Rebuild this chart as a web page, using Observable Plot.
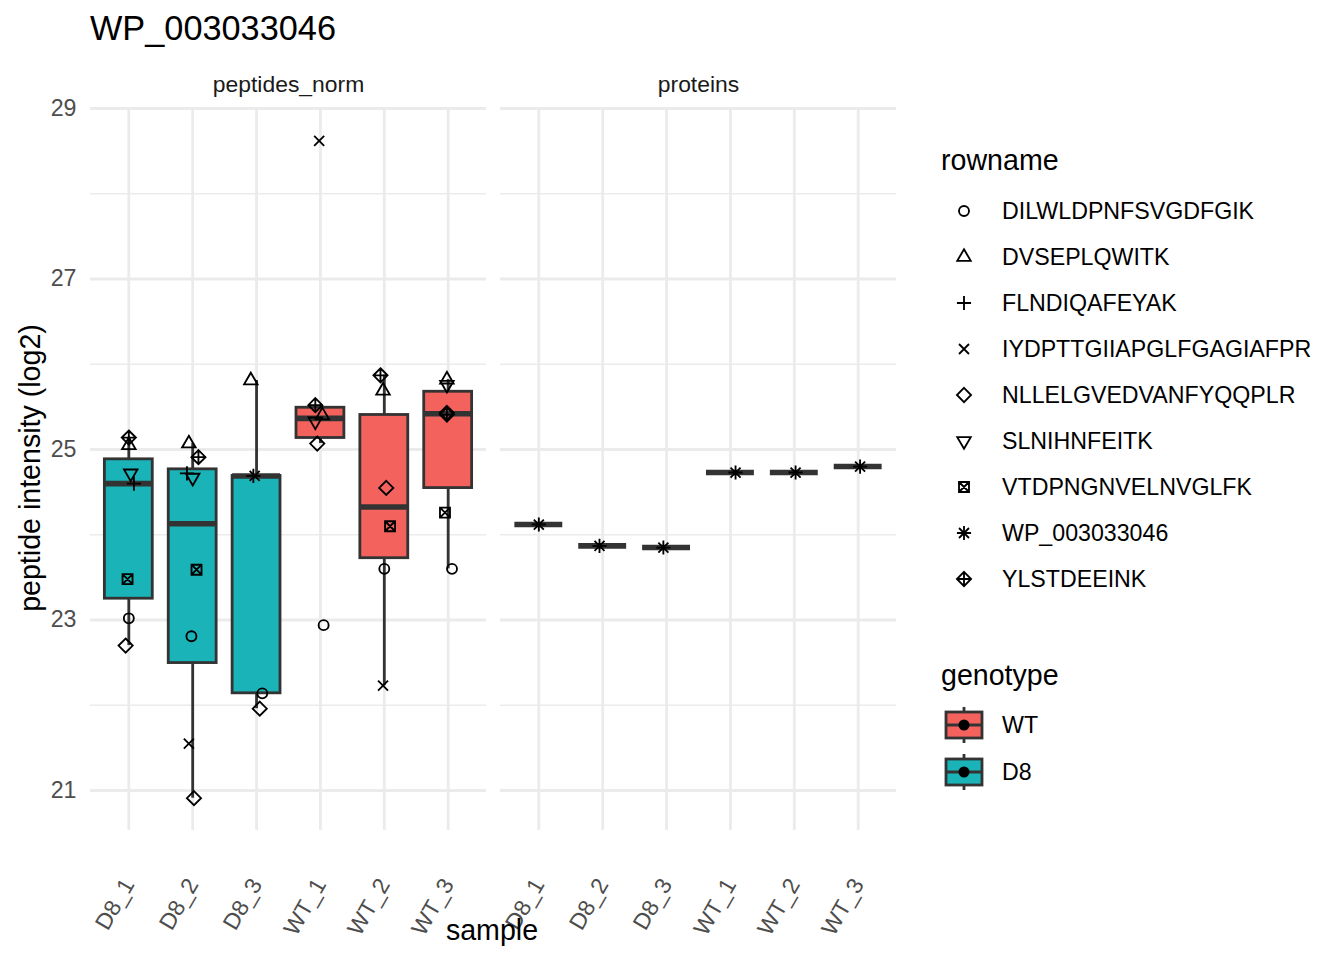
<!DOCTYPE html>
<html>
<head>
<meta charset="utf-8">
<script src="https://cdn.jsdelivr.net/npm/d3@7"></script>
<script src="https://cdn.jsdelivr.net/npm/@observablehq/plot@0.6"></script>
<style>
  html, body { margin: 0; padding: 0; background: #fff; }
  body { width: 1344px; height: 960px; position: relative; overflow: hidden; font-family: "Liberation Sans", Arial, sans-serif; }
  #title { position: absolute; left: 90px; top: 8px; height: 40px; line-height: 40px; font-size: 34.3px; color: #000; white-space: nowrap; }
  #chart { position: absolute; left: 0; top: 50px; }
  #legend { position: absolute; left: 920px; top: 100px; }
  #xlabel { position: absolute; left: 492px; top: 930px; transform: translate(-50%, -50%); font-size: 28.6px; color: #000; white-space: nowrap; }
  #ylabel { position: absolute; left: 30px; top: 468px; transform: translate(-50%, -50%) rotate(-90deg); font-size: 28.6px; color: #000; white-space: nowrap; }
</style>
</head>
<body>
<div id="title">WP_003033046</div>
<div id="chart"></div>
<div id="xlabel">sample</div>
<div id="ylabel">peptide intensity (log2)</div>
<div id="legend"></div>
<script>
// ---------------- data ----------------
const facets = ["peptides_norm", "proteins"];
const samples = ["D8_1", "D8_2", "D8_3", "WT_1", "WT_2", "WT_3"];
const sampleGenotype = ["D8", "D8", "D8", "WT", "WT", "WT"];
const genotypes = ["WT", "D8"];
const genotypeColors = ["#F4625E", "#1AB3B7"];
const rownames = ["DILWLDPNFSVGDFGIK", "DVSEPLQWITK", "FLNDIQAFEYAK", "IYDPTTGIIAPGLFGAGIAFPR",
  "NLLELGVEDVANFYQQPLR", "SLNIHNFEITK", "VTDPNGNVELNVGLFK", "WP_003033046", "YLSTDEEINK"];
const proteinRow = "WP_003033046";
const yTicksMajor = [21, 23, 25, 27, 29];
const yTicksMinor = [22, 24, 26, 28];

// log2 intensity per sample (D8_1..WT_3); null = missing
const DILWLDPNFSVGDFGIK      = [23.02, 22.81, 22.14, 22.94, 23.60, 23.60];
const DVSEPLQWITK            = [25.05, 25.07, 25.81, 25.40, 25.69, 25.82];
const FLNDIQAFEYAK           = [24.60, 24.72, 24.69, null, null, null];
const IYDPTTGIIAPGLFGAGIAFPR = [null, 21.55, 24.69, 28.62, 22.23, null];
const NLLELGVEDVANFYQQPLR    = [22.70, 20.91, 21.96, 25.07, 24.55, 25.43];
const SLNIHNFEITK            = [24.72, 24.67, null, 25.33, null, 25.76];
const VTDPNGNVELNVGLFK       = [23.48, 23.59, null, null, 24.10, 24.26];
const WP_003033046           = [24.12, 23.87, 23.85, 24.73, 24.73, 24.80];
const YLSTDEEINK             = [25.14, 24.91, null, 25.52, 25.87, 25.41];

// horizontal jitter (in category units)
const jitter_DILW = [0.00, -0.02, 0.09, 0.05, 0.00, 0.06];
const jitter_DVSE = [0.00, -0.06, -0.09, 0.03, -0.02, -0.02];
const jitter_FLND = [0.08, -0.09, -0.05, 0, 0, 0];
const jitter_IYDP = [0, -0.06, -0.03, -0.02, -0.02, 0];
const jitter_NLLE = [-0.05, 0.02, 0.05, -0.05, 0.03, -0.02];
const jitter_SLNI = [0.03, 0.00, 0, -0.08, 0, -0.02];
const jitter_VTDP = [-0.02, 0.06, 0, 0, 0.09, -0.05];
const jitter_WP   = [0.00, -0.05, -0.05, 0.08, 0.02, 0.03];
const jitter_YLST = [0.00, 0.09, 0, -0.08, -0.06, -0.02];

const valueTable = [DILWLDPNFSVGDFGIK, DVSEPLQWITK, FLNDIQAFEYAK, IYDPTTGIIAPGLFGAGIAFPR,
  NLLELGVEDVANFYQQPLR, SLNIHNFEITK, VTDPNGNVELNVGLFK, WP_003033046, YLSTDEEINK];
const jitterTable = [jitter_DILW, jitter_DVSE, jitter_FLND, jitter_IYDP, jitter_NLLE,
  jitter_SLNI, jitter_VTDP, jitter_WP, jitter_YLST];

// ------------- ggplot-like shapes (R pch 1..9) -------------
const SQ2 = Math.SQRT2;
function mk(fn) { return { draw(ctx, size) { fn(ctx, Math.sqrt(size / Math.PI)); } }; }
const shapes = [
  mk((c, s) => { c.moveTo(s, 0); c.arc(0, 0, s, 0, 2 * Math.PI); }),                       // circle
  mk((c, s) => { const r = 1.5551 * s, xc = 1.3468 * s, yc = 0.7776 * s;
    c.moveTo(0, -r); c.lineTo(xc, yc); c.lineTo(-xc, yc); c.closePath(); }),               // triangle up
  mk((c, s) => { const a = SQ2 * s; c.moveTo(-a, 0); c.lineTo(a, 0); c.moveTo(0, -a); c.lineTo(0, a); }), // plus
  mk((c, s) => { c.moveTo(-s, -s); c.lineTo(s, s); c.moveTo(-s, s); c.lineTo(s, -s); }),  // times
  mk((c, s) => { const a = SQ2 * s; c.moveTo(0, -a); c.lineTo(a, 0); c.lineTo(0, a); c.lineTo(-a, 0); c.closePath(); }), // diamond
  mk((c, s) => { const r = 1.5551 * s, xc = 1.3468 * s, yc = 0.7776 * s;
    c.moveTo(0, r); c.lineTo(xc, -yc); c.lineTo(-xc, -yc); c.closePath(); }),              // triangle down
  mk((c, s) => { c.moveTo(-s, -s); c.lineTo(s, -s); c.lineTo(s, s); c.lineTo(-s, s); c.closePath();
    c.moveTo(-s, -s); c.lineTo(s, s); c.moveTo(-s, s); c.lineTo(s, -s); }),                // square cross
  mk((c, s) => { c.moveTo(-s, -s); c.lineTo(s, s); c.moveTo(-s, s); c.lineTo(s, -s);
    const a = SQ2 * s; c.moveTo(-a, 0); c.lineTo(a, 0); c.moveTo(0, -a); c.lineTo(0, a); }), // asterisk
  mk((c, s) => { const a = SQ2 * s; c.moveTo(0, -a); c.lineTo(a, 0); c.lineTo(0, a); c.lineTo(-a, 0); c.closePath();
    c.moveTo(-a, 0); c.lineTo(a, 0); c.moveTo(0, -a); c.lineTo(0, a); })                   // diamond plus
];

// ------------- long table -------------
const rows = [];
rownames.forEach((rn, k) => {
  samples.forEach((sm, i) => {
    const v = valueTable[k][i];
    if (v == null) return;
    rows.push({
      facet: rn === proteinRow ? "proteins" : "peptides_norm",
      rowname: rn, sample: sm, si: i, value: v, jit: jitterTable[k][i],
      genotype: sampleGenotype[i]
    });
  });
});

// box statistics (ggplot stat_boxplot: quantile type 7, whiskers 1.5 IQR)
const stats = [];
facets.forEach(f => {
  samples.forEach((sm, i) => {
    const vals = rows.filter(r => r.facet === f && r.si === i).map(r => r.value).sort(d3.ascending);
    if (!vals.length) return;
    const q1 = d3.quantileSorted(vals, 0.25), med = d3.quantileSorted(vals, 0.5), q3 = d3.quantileSorted(vals, 0.75);
    const iqr = q3 - q1;
    const lo = d3.min(vals.filter(v => v >= q1 - 1.5 * iqr));
    const hi = d3.max(vals.filter(v => v <= q3 + 1.5 * iqr));
    stats.push({ facet: f, si: i, sample: sm, genotype: sampleGenotype[i], q1, med, q3, lo, hi });
  });
});

const BOXW = 0.375;
const grey20 = "#333333";
const gridCol = "#EBEBEB";
const allIdx = samples.map((_, i) => i);

const pointMarks = rownames.map((rn, k) =>
  Plot.dot(rows.filter(r => r.rowname === rn), {
    x: d => d.si + d.jit, y: "value", fx: "facet",
    symbol: shapes[k], r: 5, fill: "none", stroke: "black", strokeWidth: 1.85
  })
);

const chart = Plot.plot({
  width: 920,
  height: 910,
  marginTop: 57.5,
  marginBottom: 130,
  marginLeft: 88.6,
  marginRight: 23.6,
  style: { fontFamily: "'Liberation Sans', Arial, sans-serif", background: "transparent", overflow: "visible" },
  fx: { domain: facets, paddingInner: 0.0345, paddingOuter: 0, label: null },
  x: { domain: [-0.6, 5.6], label: null },
  y: { domain: [20.531, 29.006], label: null },
  color: { domain: genotypes, range: genotypeColors },
  marks: [
    Plot.gridY({ ticks: yTicksMinor, stroke: gridCol, strokeOpacity: 1, strokeWidth: 1.4 }),
    Plot.gridY({ ticks: yTicksMajor, stroke: gridCol, strokeOpacity: 1, strokeWidth: 2.8 }),
    Plot.gridX({ ticks: allIdx, stroke: gridCol, strokeOpacity: 1, strokeWidth: 2.8 }),
    Plot.axisFx({ anchor: "top", tickSize: 0, tickPadding: 16, fontSize: 22.9, color: "#1A1A1A", label: null }),
    Plot.axisY({ ticks: yTicksMajor, tickSize: 0, tickPadding: 14, fontSize: 23.2, color: "#4D4D4D", label: null }),
    Plot.axisX({ ticks: allIdx, tickFormat: i => samples[i], tickSize: 0, tickPadding: 50, tickRotate: -60,
      fontSize: 22.9, color: "#4D4D4D", label: null }),
    Plot.ruleX(stats, { x: "si", y1: "lo", y2: "hi", fx: "facet", stroke: grey20, strokeWidth: 2.8 }),
    Plot.rect(stats, { x1: d => d.si - BOXW, x2: d => d.si + BOXW, y1: "q1", y2: "q3", fx: "facet",
      fill: "genotype", stroke: grey20, strokeWidth: 2.8 }),
    Plot.ruleY(stats, { y: "med", x1: d => d.si - BOXW, x2: d => d.si + BOXW, fx: "facet",
      stroke: grey20, strokeWidth: 5.6 }),
    ...pointMarks
  ]
});
document.getElementById("chart").appendChild(chart);

// ------------- legend -------------
const lg = d3.select("#legend").append("svg").attr("width", 424).attr("height", 720)
  .style("font-family", "'Liberation Sans', Arial, sans-serif").style("overflow", "visible");
lg.append("text").attr("x", 21).attr("y", 60).attr("dy", "0.35em").attr("font-size", 28.6).attr("fill", "#000").text("rowname");
rownames.forEach((rn, k) => {
  const cy = 111 + 46 * k;
  lg.append("path").attr("transform", `translate(44,${cy})`)
    .attr("d", d3.symbol(shapes[k], 25 * Math.PI)())
    .attr("fill", "none").attr("stroke", "#000").attr("stroke-width", 1.85);
  lg.append("text").attr("x", 82).attr("y", cy).attr("dy", "0.35em").attr("font-size", 23.2).attr("fill", "#000").text(rn);
});
lg.append("text").attr("x", 21).attr("y", 575).attr("dy", "0.35em").attr("font-size", 28.6).attr("fill", "#000").text("genotype");
genotypes.forEach((g, k) => {
  const cy = 625 + 47 * k;
  const key = lg.append("g").attr("transform", `translate(44,${cy})`);
  key.append("line").attr("x1", 0).attr("x2", 0).attr("y1", -18).attr("y2", 18).attr("stroke", grey20).attr("stroke-width", 2.8);
  key.append("rect").attr("x", -18).attr("y", -13).attr("width", 36).attr("height", 26)
    .attr("fill", genotypeColors[k]).attr("stroke", grey20).attr("stroke-width", 2.8);
  key.append("line").attr("x1", -18).attr("x2", 18).attr("y1", 0).attr("y2", 0).attr("stroke", grey20).attr("stroke-width", 2.8);
  key.append("circle").attr("r", 5.5).attr("fill", "#000");
  lg.append("text").attr("x", 82).attr("y", cy).attr("dy", "0.35em").attr("font-size", 23.2).attr("fill", "#000").text(g);
});
</script>
</body>
</html>
